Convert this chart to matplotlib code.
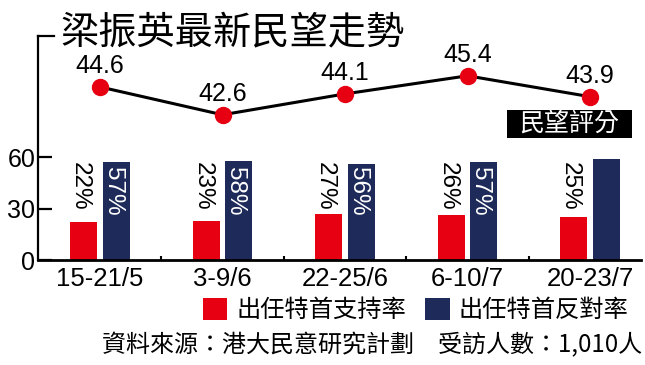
import matplotlib
matplotlib.use("Agg")
import matplotlib.pyplot as plt
from matplotlib.patches import Rectangle

plt.rcParams["font.family"] = ["Liberation Sans", "Noto Sans CJK TC", "DejaVu Sans"]

# data
periods = ["15-21/5", "3-9/6", "22-25/6", "6-10/7", "20-23/7"]
rating = [44.6, 42.6, 44.1, 45.4, 43.9]
support = [22, 23, 27, 26, 25]
oppose = [57, 58, 56, 57, 59]
support_labels = ["22%", "23%", "27%", "26%", "25%"]
oppose_labels = ["57%", "58%", "56%", "57%", ""]

RED = "#E60012"
NAVY = "#1E2B5A"

W, H = 645, 365
fig = plt.figure(figsize=(W / 100, H / 100), dpi=100)

def px(x, y):
    return x / W, 1 - y / H

ax = fig.add_axes([38 / W, (H - 260) / H, (641 - 38) / W, (260 - 35.7) / H])
x = list(range(len(periods)))
bw = 0.22
off = 0.133

ax.bar([i - off for i in x], support, bw, color=RED, label="出任特首支持率")
ax.bar([i + off for i in x], oppose, bw, color=NAVY, label="出任特首反對率")

for i in x:
    ax.text(i - off - 0.03, 57, support_labels[i], rotation=270, ha="center", va="top",
            fontsize=17.5, color="black")
    if oppose_labels[i]:
        ax.text(i + off - 0.03, 54.2, oppose_labels[i], rotation=270, ha="center", va="top",
                fontsize=17.5, color="white")

ax.set_xlim(-0.506, 4.416)
ax.set_ylim(0, 131)
ax.set_yticks([0, 30, 60])
ax.set_xticks(x)
ax.set_xticklabels(periods)
ax.set_xticks([0.5, 1.5, 2.5, 3.5], minor=True)
ax.tick_params(axis="y", direction="in", length=10, width=1.6, labelsize=18, pad=2)
ax.tick_params(axis="x", which="major", length=0, labelsize=18.5, pad=5)
ax.tick_params(axis="x", which="minor", direction="in", length=3, width=1.5)
for s in ["top", "right"]:
    ax.spines[s].set_visible(False)
ax.spines["left"].set_linewidth(1.6)
ax.spines["bottom"].set_linewidth(2)
ax.plot([0, 16 / 603], [1, 1], color="black", lw=1.6, transform=ax.transAxes, clip_on=False)

leg = ax.legend(loc="center left", bbox_to_anchor=px(203, 310), bbox_transform=fig.transFigure,
                ncol=2, frameon=False, fontsize=17.5, handlelength=1.0, handleheight=1.0,
                handletextpad=0.37, columnspacing=0.8, borderpad=0, borderaxespad=0)

# rating line on its own scale
ax2 = ax.twinx()
ax2.plot(x, rating, color="black", lw=2.2, marker="o", markersize=11.5,
         markerfacecolor=RED, markeredgecolor=RED, zorder=5)
for i in x:
    ax2.annotate(f"{rating[i]}", (x[i], rating[i]), xytext=(0, 10), textcoords="offset points",
                 ha="center", va="baseline", fontsize=18)
ax2.set_ylim(32.17, 48.28)
ax2.set_xlim(-0.506, 4.416)
ax2.axis("off")

# title
fig.text(*px(60, 33), "梁振英最新民望走勢", fontsize=27.5, va="center", ha="left",
         family="Noto Sans CJK TC")

# 民望評分 box
fig.patches.append(Rectangle(px(507, 138), 125 / W, 28 / H, transform=fig.transFigure,
                             facecolor="black", edgecolor="none"))
fig.text(*px(569.5, 124), "民望評分", fontsize=18, color="white", ha="center", va="center",
         family="Noto Sans CJK TC")

# source
fig.text(*px(102, 345), "資料來源：港大民意研究計劃　受訪人數：1,010人", fontsize=17.3,
         ha="left", va="center", family="Noto Sans CJK TC")

fig.savefig("out.png", dpi=100)
